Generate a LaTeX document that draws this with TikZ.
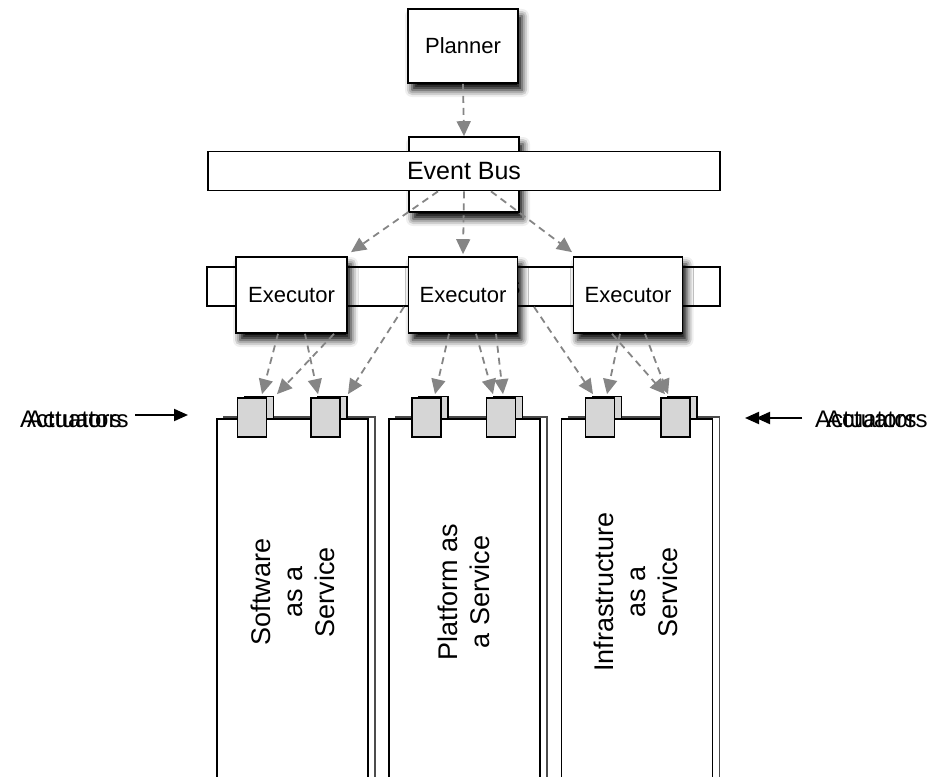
\documentclass[tikz,border=0pt]{standalone}
\usepackage{fontspec}
\setmainfont{Liberation Sans}
\usetikzlibrary{arrows.meta,shadows.blur,calc}
\begin{document}
\begin{tikzpicture}[x=1pt,y=-1pt,
  box/.style={draw=black,line width=1.7pt,fill=white,inner sep=0pt,rectangle},
  shad/.style={blur shadow={shadow xshift=4pt,shadow yshift=-7pt,shadow blur radius=7pt,shadow opacity=100}},
  darr/.style={draw=black!48,line width=1.8pt,dash pattern=on 7pt off 5pt,-{Triangle[length=15pt,width=14pt,fill=black!48]}},
  barr/.style={draw=black,line width=2pt,-{Triangle[length=14pt,width=12pt]}},
  actbox/.style={draw=black,line width=1.7pt,fill=black!16,minimum width=29pt,minimum height=39pt,inner sep=0pt},
  actback/.style={draw=black,line width=1.3pt,fill=black!16,minimum width=29pt,minimum height=39pt,inner sep=0pt},
  svc/.style={draw=black,line width=1.9pt,fill=white,minimum width=151pt,minimum height=381pt,inner sep=0pt},
  svcback/.style={draw=black!70,line width=1.1pt,fill=white,minimum width=151pt,minimum height=381pt,inner sep=0pt},
  small/.style={font=\fontsize{22}{26}\selectfont},
  big/.style={font=\fontsize{25}{30}\selectfont},
  svctext/.style={font=\fontsize{27}{32}\selectfont,rotate=90,align=center},
  lbl/.style={font=\fontsize{24}{28}\selectfont,anchor=west,inner sep=0pt}
]
\useasboundingbox (0,0) rectangle (936,776);
\clip (0,0) rectangle (936,776);

% planner
\node[box,shad,small,minimum width=110pt,minimum height=74pt] (planner) at (463,46) {Planner};
\node[box,shad,minimum width=110pt,minimum height=75pt] (hidden) at (464,174.5) {};
\draw[darr] (planner.south) -- (hidden.north);
\node[box,big,minimum width=512pt,minimum height=39pt] (bus) at (464,171) {Event Bus};

% executor bar
\node[box,big,minimum width=513pt,minimum height=39pt] (execbar) at (463.5,286.5) {Event Bus};
\node[box,shad,small,minimum width=111pt,minimum height=76pt] (exec1) at (291.5,295) {Executor};
\node[box,shad,small,minimum width=109pt,minimum height=76pt] (exec2) at (463,295) {Executor};
\node[box,shad,small,minimum width=109pt,minimum height=76pt] (exec3) at (628,295) {Executor};

\draw[darr] ($(bus.south)+(-26,0)$) -- ($(exec1.north)+(59.5,-4)$);
\draw[darr] (bus.south) -- ($(exec2.north)+(0,-2)$);
\draw[darr] ($(bus.south)+(27,0)$) -- ($(exec3.north)+(-56,-4)$);

% service boxes (back)
\node[svcback] (svc1b) at (299.5,607.5) {};
\node[svcback] (svc2b) at (471.5,607.5) {};
\node[svcback] (svc3b) at (644,607.5) {};

% actuators (back)
\node[actback] (act11b) at (259,416) {};
\node[actback] (act12b) at (332.5,416) {};
\node[actback] (act21b) at (433.5,416) {};
\node[actback] (act22b) at (508,416) {};
\node[actback] (act31b) at (607,416) {};
\node[actback] (act32b) at (682.5,416) {};

% service boxes (front)
\node[svc] (svc1) at (292.5,609.5) {};
\node[svc] (svc2) at (464.5,609.5) {};
\node[svc] (svc3) at (637,609.5) {};

\node[svctext] (t1) at (292.5,592) {Software\\as a\\Service};
\node[svctext] (t2) at (464,592) {Platform as\\a Service};
\node[svctext] (t3) at (636,592) {Infrastructure\\as a\\Service};

% actuators (front)
\node[actbox] (act11) at (252,417.5) {};
\node[actbox] (act12) at (325.5,417.5) {};
\node[actbox] (act21) at (426.5,417.5) {};
\node[actbox] (act22) at (501,417.5) {};
\node[actbox] (act31) at (600,417.5) {};
\node[actbox] (act32) at (675.5,417.5) {};

% executor -> actuator arrows
\draw[darr] ($(exec1.south)+(-13.5,0)$) -- ($(act11.north)+(10,-3)$);
\draw[darr] ($(exec1.south)+(42.5,0)$) -- ($(act11.north)+(25,-3)$);
\draw[darr] ($(exec1.south)+(13.5,0)$) -- ($(act12.north)+(-7.5,-3)$);
\draw[darr] ($(execbar.south)+(-59.5,0)$) -- ($(act12.north)+(22.5,-3)$);
\draw[darr] ($(exec2.south)+(-14,0)$) -- ($(act21.north)+(8.5,-3)$);
\draw[darr] ($(exec2.south)+(13,0)$) -- ($(act22.north)+(-8,-3)$);
\draw[darr] ($(exec2.south)+(33,0)$) -- ($(act22.north)+(2,-3)$);
\draw[darr] ($(execbar.south)+(70.5,0)$) -- ($(act31.north)+(-7,-3)$);
\draw[darr] ($(exec3.south)+(-8,0)$) -- ($(act31.north)+(7,-3)$);
\draw[darr] ($(exec3.south)+(-16,0)$) -- ($(act32.north)+(-10.5,-3)$);
\draw[darr] ($(exec3.south)+(17,0)$) -- ($(act32.north)+(-7.5,-3)$);

% actuator labels
\node[lbl] (actL1) at (20,419) {Actuators};
\node[lbl] (actL2) at (27,419) {Actuators};
\coordinate (aLs) at (135,415);
\coordinate (aLe) at (188,415);
\draw[barr] (aLs) -- (aLe);

\node[lbl] (actR1) at (815,419) {Actuators};
\node[lbl] (actR2) at (826,419) {Actuators};
\coordinate (aRs) at (802,418);
\coordinate (aRe1) at (745,418);
\coordinate (aRe2) at (756,418);
\draw[barr] (aRs) -- (aRe1);
\draw[barr] (aRs) -- (aRe2);
\end{tikzpicture}
\end{document}
